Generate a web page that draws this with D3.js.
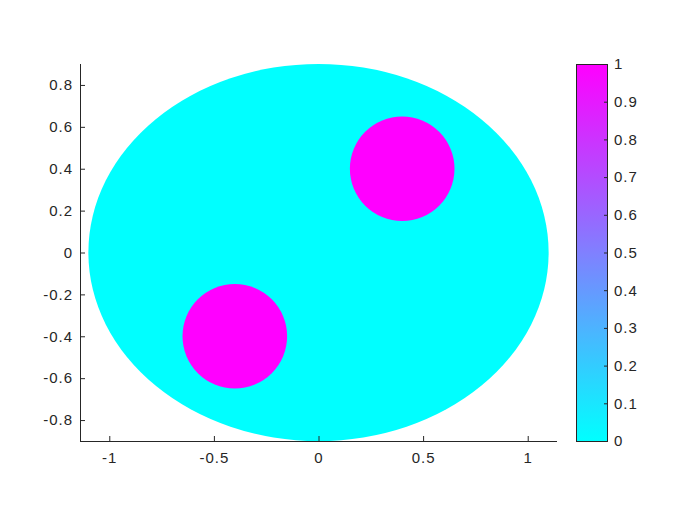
<!DOCTYPE html>
<html>
<head>
<meta charset="utf-8">
<script src="https://cdn.jsdelivr.net/npm/d3@7"></script>
<style>
body { margin:0; background:#fff; }
text { font-family: "Liberation Sans", Arial, Helvetica, sans-serif; }
</style>
</head>
<body>
<svg id="chart" width="700" height="525"></svg>
<script>
// Domain: ellipse (value 0) with two circular inclusions (value 1)
const domainCenter = [0, 0];
const domainRadii = [1.1, 0.9];
const domainValue = 0;
const inclusionCx = [0.4, -0.4];
const inclusionCy = [0.4, -0.4];
const inclusionR = [0.25, 0.25];
const inclusionValue = [1, 1];
const xTicks = [-1, -0.5, 0, 0.5, 1];
const yTicks = [-0.8, -0.6, -0.4, -0.2, 0, 0.2, 0.4, 0.6, 0.8];
const cbTicks = [0, 0.1, 0.2, 0.3, 0.4, 0.5, 0.6, 0.7, 0.8, 0.9, 1];
const xLim = [-1.14, 1.14];
const yLim = [-0.9, 0.9];
const cLim = [0, 1];

(function () {
const svg = d3.select("#chart");
const ink = "#262626";
const pL = 80, pR = 557, pT = 64, pB = 441;
const x = d3.scaleLinear().domain(xLim).range([pL, pR]);
const y = d3.scaleLinear().domain(yLim).range([pB, pT]);
const cool = t => d3.rgb(255 * t, 255 * (1 - t), 255);
const color = d3.scaleLinear().domain(cLim).range([0, 1]);
const fmt = d => String(d);

const plot = svg.append("g");
plot.append("ellipse")
  .attr("cx", x(domainCenter[0])).attr("cy", y(domainCenter[1]))
  .attr("rx", x(domainRadii[0]) - x(0)).attr("ry", y(0) - y(domainRadii[1]))
  .attr("fill", cool(color(domainValue)));
plot.selectAll("circle.inc").data(inclusionCx.map((cx, i) => ({cx, cy: inclusionCy[i], r: inclusionR[i], v: inclusionValue[i]})))
  .enter().append("circle").attr("class", "inc")
  .attr("cx", d => x(d.cx)).attr("cy", d => y(d.cy))
  .attr("r", d => x(d.r) - x(0))
  .attr("fill", d => cool(color(d.v)));

const fs = "15px";
const ff = '"Liberation Sans", Arial, sans-serif';
const styleText = sel => sel.attr("fill", ink).style("font-size", fs).style("font-family", ff).style("letter-spacing", "1px");
const xAxis = svg.append("g").attr("transform", `translate(0,${pB})`)
  .call(d3.axisBottom(x).tickValues(xTicks).tickSize(-5).tickSizeOuter(0).tickPadding(11).tickFormat(fmt));
const yAxis = svg.append("g").attr("transform", `translate(${pL},0)`)
  .call(d3.axisLeft(y).tickValues(yTicks).tickSize(-5).tickSizeOuter(0).tickPadding(7).tickFormat(fmt));
[xAxis, yAxis].forEach(a => {
  a.select(".domain").attr("stroke", ink).attr("stroke-width", 1);
  a.selectAll(".tick line").attr("stroke", ink);
  styleText(a.selectAll(".tick text"));
});
xAxis.select(".domain").attr("d", `M${pL},0.5H${pR}`);
yAxis.select(".domain").attr("d", `M0.5,${pT}V${pB}`);

// Colorbar
const cbL = 576, cbR = 608;
const cy = d3.scaleLinear().domain(cLim).range([pB, pT]);
const defs = svg.append("defs");
const grad = defs.append("linearGradient").attr("id", "cg").attr("x1", 0).attr("y1", 1).attr("x2", 0).attr("y2", 0);
d3.range(0, 1.0001, 0.1).forEach(t => grad.append("stop").attr("offset", t).attr("stop-color", cool(t)));
svg.append("rect").attr("x", cbL).attr("y", pT).attr("width", cbR - cbL).attr("height", pB - pT)
  .attr("fill", "url(#cg)");
const cbAxis = svg.append("g").attr("transform", `translate(${cbR},0)`)
  .call(d3.axisRight(cy).tickValues(cbTicks).tickSize(-4).tickSizeOuter(0).tickPadding(6).tickFormat(fmt));
cbAxis.select(".domain").remove();
cbAxis.selectAll(".tick line").attr("stroke", ink);
styleText(cbAxis.selectAll(".tick text"));
svg.append("rect").attr("x", cbL + 0.5).attr("y", pT + 0.5).attr("width", cbR - cbL - 1).attr("height", pB - pT)
  .attr("fill", "none").attr("stroke", ink).attr("stroke-width", 1);
})();
</script>
</body>
</html>
